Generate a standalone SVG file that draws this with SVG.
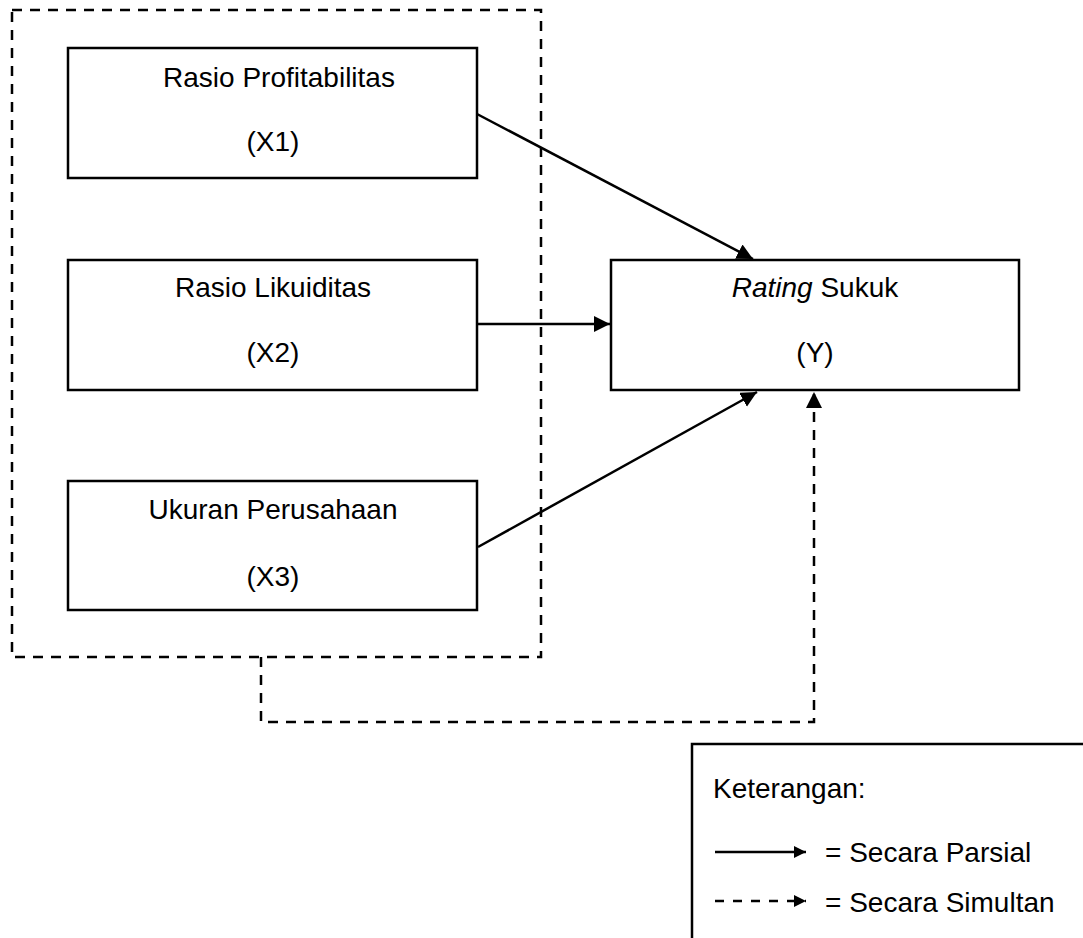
<svg xmlns="http://www.w3.org/2000/svg" width="1083" height="938" viewBox="0 0 1083 938">
<style>
text{font-family:"Liberation Sans",Arial,sans-serif;font-size:28px;fill:#000}
.c{text-anchor:middle}
.box{fill:#fff;stroke:#000;stroke-width:2.5}
.solid{fill:none;stroke:#000;stroke-width:2.5}
.dash{fill:none;stroke:#000;stroke-width:2.5;stroke-dasharray:10 8}
</style>
<defs>
<marker id="ah" markerWidth="18" markerHeight="18" refX="16" refY="8" orient="auto" markerUnits="userSpaceOnUse">
<path d="M0,0 L16,8 L0,16 Z" fill="#000"/>
</marker>
<marker id="ahs" markerWidth="14" markerHeight="14" refX="12" refY="6" orient="auto" markerUnits="userSpaceOnUse">
<path d="M0,0 L12,6 L0,12 Z" fill="#000"/>
</marker>
</defs>
<rect id="group-box" x="12" y="10" width="529" height="647" class="dash"/>
<g id="x1">
<rect x="68" y="48" width="409" height="130" class="box"/>
<text x="279" y="87" class="c">Rasio Profitabilitas</text>
<text x="273" y="151" class="c">(X1)</text>
</g>
<g id="x2">
<rect x="68" y="260" width="409" height="130" class="box"/>
<text x="273" y="297" class="c">Rasio Likuiditas</text>
<text x="273" y="362" class="c">(X2)</text>
</g>
<g id="x3">
<rect x="68" y="481" width="409" height="129" class="box"/>
<text x="273" y="519" class="c">Ukuran Perusahaan</text>
<text x="273" y="586" class="c">(X3)</text>
</g>
<g id="y">
<rect x="611" y="260" width="408" height="130" class="box"/>
<text x="815" y="297" class="c"><tspan font-style="italic">Rating</tspan> Sukuk</text>
<text x="815" y="362" class="c">(Y)</text>
</g>
<g id="connectors">
<line x1="477" y1="114" x2="753" y2="259" class="solid" marker-end="url(#ah)"/>
<line x1="477" y1="324" x2="610" y2="324" class="solid" marker-end="url(#ah)"/>
<line x1="478" y1="547" x2="757" y2="392" class="solid" marker-end="url(#ah)"/>
<polyline points="261,657 261,722 814,722 814,392" class="dash" marker-end="url(#ah)"/>
</g>
<g id="legend">
<rect x="692" y="744" width="420" height="220" class="box"/>
<text x="713" y="798">Keterangan:</text>
<line x1="715" y1="852" x2="806" y2="852" class="solid" marker-end="url(#ahs)"/>
<text x="825" y="862">= Secara Parsial</text>
<line x1="715" y1="901" x2="806" y2="901" class="solid" stroke-dasharray="9 9" marker-end="url(#ahs)"/>
<text x="825" y="912">= Secara Simultan</text>
</g>
</svg>
